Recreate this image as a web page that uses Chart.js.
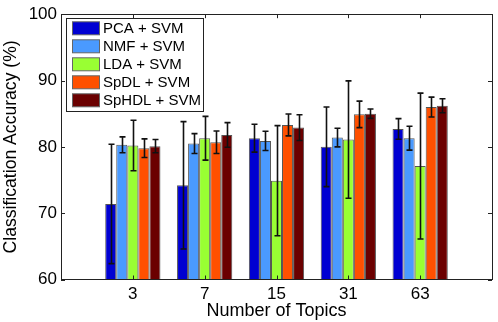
<!DOCTYPE html>
<html>
<head>
<meta charset="utf-8">
<script src="https://cdn.jsdelivr.net/npm/chart.js@4/dist/chart.umd.min.js"></script>
<style>
  html, body { margin: 0; padding: 0; background: #fff; }
  #wrap { width: 498px; height: 322px; position: relative; }
</style>
</head>
<body>
<div id="wrap"><canvas id="c" width="498" height="322"></canvas></div>
<script>
const categories = ['3', '7', '15', '31', '63'];
const seriesNames = ['PCA + SVM', 'NMF + SVM', 'LDA + SVM', 'SpDL + SVM', 'SpHDL + SVM'];
const seriesColors = ['#0000d2', '#4a9aff', '#99ff33', '#ff5000', '#6b0000'];

const pcaValues   = [71.4, 74.2, 81.3, 80.0, 82.7];
const nmfValues   = [80.3, 80.5, 80.9, 81.4, 81.3];
const ldaValues   = [80.2, 81.3, 74.9, 81.1, 77.1];
const spdlValues  = [79.8, 80.7, 83.3, 84.9, 86.0];
const sphdlValues = [80.1, 81.8, 82.9, 85.0, 86.2];

const pcaErr   = [9.0, 9.6, 2.1, 6.0, 1.55];
const nmfErr   = [1.2, 1.5, 1.45, 1.4, 1.8];
const ldaErr   = [3.8, 3.3, 8.3, 8.85, 11.0];
const spdlErr  = [1.4, 1.7, 1.65, 2.0, 1.5];
const sphdlErr = [1.0, 1.85, 1.95, 0.7, 1.05];

const yTicks = [60, 70, 80, 90, 100];

const allValues = [pcaValues, nmfValues, ldaValues, spdlValues, sphdlValues];
const allErrs = [pcaErr, nmfErr, ldaErr, spdlErr, sphdlErr];

// pad with empty slots so categories sit at 1..5 on a 0..6 axis
const paddedLabels = [''].concat(categories, ['']);
const pad = arr => [null].concat(arr, [null]);

const FONT = "'Liberation Sans', Arial, Helvetica, sans-serif";

const datasets = seriesNames.map((name, i) => ({
  label: name,
  data: pad(allValues[i]),
  errors: pad(allErrs[i]),
  backgroundColor: seriesColors[i],
  borderColor: '#555555',
  borderWidth: 1,
  borderSkipped: false,
  categoryPercentage: 0.769,
  barPercentage: 1.0
}));

const framePlugin = {
  id: 'frame',
  afterDatasetsDraw(chart) {
    const ctx = chart.ctx;
    const ys = chart.scales.y;
    ctx.save();
    ctx.strokeStyle = '#111';
    ctx.lineWidth = 1.6;
    chart.data.datasets.forEach((ds, di) => {
      const meta = chart.getDatasetMeta(di);
      meta.data.forEach((bar, idx) => {
        const v = ds.data[idx], e = ds.errors[idx];
        if (v == null || e == null) return;
        const x = Math.round(bar.x) + 0.5;
        const yt = ys.getPixelForValue(v + e);
        const yb = ys.getPixelForValue(v - e);
        ctx.beginPath();
        ctx.moveTo(x, yt); ctx.lineTo(x, yb);
        ctx.moveTo(x - 3, yt); ctx.lineTo(x + 3, yt);
        ctx.moveTo(x - 3, yb); ctx.lineTo(x + 3, yb);
        ctx.stroke();
      });
    });
    ctx.restore();
  },
  afterDraw(chart) {
    const ctx = chart.ctx;
    const a = chart.chartArea;
    const ys = chart.scales.y, xs = chart.scales.x;
    ctx.save();
    ctx.strokeStyle = '#222';
    ctx.lineWidth = 1;
    ctx.beginPath();
    yTicks.forEach(t => {
      const y = Math.round(ys.getPixelForValue(t)) + 0.5;
      ctx.moveTo(a.left, y); ctx.lineTo(a.left + 4, y);
      ctx.moveTo(a.right, y); ctx.lineTo(a.right - 4, y);
    });
    categories.forEach((c, i) => {
      const x = Math.round(xs.getPixelForValue(i + 1)) + 0.5;
      ctx.moveTo(x, a.top); ctx.lineTo(x, a.top + 4);
      ctx.moveTo(x, a.bottom); ctx.lineTo(x, a.bottom - 4);
    });
    ctx.stroke();
    ctx.strokeRect(Math.round(a.left) + 0.5, Math.round(a.top) + 0.5,
                   Math.round(a.right - a.left), Math.round(a.bottom - a.top));
    // legend
    const lx = 66.5, ly = 18.5, lw = 137, lh = 93;
    ctx.fillStyle = '#fff';
    ctx.fillRect(lx, ly, lw, lh);
    ctx.strokeStyle = '#222';
    ctx.strokeRect(lx, ly, lw, lh);
    ctx.font = '15px ' + FONT;
    ctx.textBaseline = 'middle';
    ctx.textAlign = 'left';
    seriesNames.forEach((name, i) => {
      const cy = 28.3 + i * 18.0;
      ctx.fillStyle = seriesColors[i];
      ctx.fillRect(72, cy - 6.5, 27, 13);
      ctx.strokeStyle = '#666';
      ctx.strokeRect(72.5, cy - 6.5, 27, 13);
      ctx.fillStyle = '#000';
      ctx.fillText(name, 103, cy + 0.5);
    });
    ctx.restore();
  }
};

new Chart(document.getElementById('c'), {
  type: 'bar',
  data: { labels: paddedLabels, datasets: datasets },
  options: {
    responsive: false,
    animation: false,
    devicePixelRatio: 1,
    layout: { padding: { left: 0, right: 6, top: 13.5, bottom: 0 } },
    plugins: { legend: { display: false }, tooltip: { enabled: false } },
    scales: {
      x: {
        offset: false,
        grid: { display: false, drawTicks: false },
        border: { display: false },
        ticks: { color: '#000', font: { family: FONT, size: 17 }, padding: 5, maxRotation: 0, autoSkip: false },
        title: { display: true, text: 'Number of Topics', color: '#000',
                 font: { family: FONT, size: 18 }, padding: { top: 0, bottom: 0 } },
        afterFit(s) { s.height = 42.5; }
      },
      y: {
        min: 60, max: 100,
        afterBuildTicks(s) { s.ticks = yTicks.map(v => ({ value: v })); },
        grid: { display: false, drawTicks: false },
        border: { display: false },
        ticks: { color: '#000', font: { family: FONT, size: 17 }, padding: 4 },
        title: { display: true, text: 'Classification Accuracy (%)', color: '#000',
                 font: { family: FONT, size: 17.6 }, padding: { top: 1, bottom: 0 } },
        afterFit(s) { s.width = 61; }
      }
    }
  },
  plugins: [framePlugin]
});
</script>
</body>
</html>
